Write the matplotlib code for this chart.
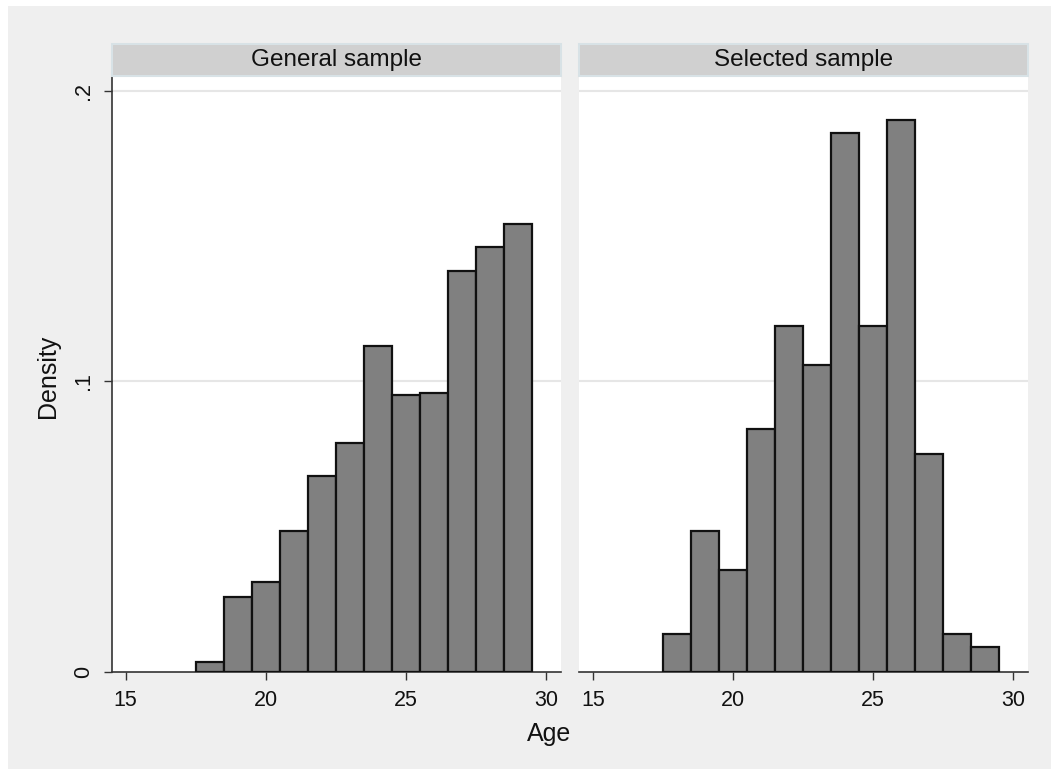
import numpy as np
import matplotlib
matplotlib.use('Agg')
import matplotlib.pyplot as plt
from matplotlib.patches import Rectangle

plt.rcParams['font.family'] = ['Liberation Sans', 'DejaVu Sans']

# Histogram data (bins of width 1 starting at 17.5)
bin_left = [17.5, 18.5, 19.5, 20.5, 21.5, 22.5, 23.5, 24.5, 25.5, 26.5, 27.5, 28.5]
general_density = [0.0033, 0.0258, 0.0310, 0.0485, 0.0674, 0.0788,
                   0.1120, 0.0952, 0.0958, 0.1378, 0.1461, 0.1543]
selected_density = [0.0129, 0.0483, 0.0350, 0.0836, 0.1190, 0.1056,
                    0.1854, 0.1190, 0.1898, 0.0748, 0.0129, 0.0085]
panel_titles = ['General sample', 'Selected sample']
x_ticks = [15, 20, 25, 30]
y_ticks = [0, 0.1, 0.2]
y_ticklabels = ['0', '.1', '.2']

W, H = 1051, 769
fig = plt.figure(figsize=(W / 100, H / 100), dpi=100, facecolor='white')

# light gray graph region
fig.patches.append(Rectangle((8 / W, 0), 1, 1 - 6 / H, transform=fig.transFigure,
                             facecolor='#EFEFEF', edgecolor='none', zorder=-10))

axis_col = '#333333'
panels = [(111.7, 560.7), (579.0, 1028.0)]
top_px, bot_px = 75.7, 671.7
head_top = 43.5

for i, (x0, x1) in enumerate(panels):
    ax = fig.add_axes([x0 / W, (H - bot_px) / H, (x1 - x0) / W, (bot_px - top_px) / H])
    ax.set_facecolor('white')
    dens = general_density if i == 0 else selected_density
    ax.bar(bin_left, dens, width=1.0, align='edge', color='#808080',
           edgecolor='#111111', linewidth=1.6, zorder=3)
    ax.set_xlim(14.5, 30.52)
    ax.set_ylim(0, 0.2052)
    for yv in [0.1, 0.2]:
        ax.axhline(yv, color='#E6E6E6', linewidth=1.5, zorder=1)
    ax.set_xticks(x_ticks)
    ax.set_xticklabels([str(t) for t in x_ticks])
    ax.tick_params(axis='x', direction='out', length=6, width=1, color=axis_col,
                   labelsize=15.5, pad=7, labelcolor='#111111')
    for s in ['top', 'right']:
        ax.spines[s].set_visible(False)
    ax.spines['bottom'].set_color(axis_col)
    ax.spines['bottom'].set_linewidth(1.2)
    if i == 0:
        ax.set_yticks(y_ticks)
        ax.set_yticklabels(y_ticklabels, rotation=90, va='center')
        ax.tick_params(axis='y', direction='out', length=6, width=1, color=axis_col,
                       labelsize=15.5, pad=7, labelcolor='#111111')
        ax.spines['left'].set_color(axis_col)
        ax.spines['left'].set_linewidth(1.2)
    else:
        ax.spines['left'].set_visible(False)
        ax.set_yticks([])

    # strip header
    fig.patches.append(Rectangle((x0 / W, (H - top_px) / H), (x1 - x0) / W,
                                 (top_px - head_top) / H, transform=fig.transFigure,
                                 facecolor='#D0D0D0', edgecolor='#D8E2E6',
                                 linewidth=1.5, zorder=1))
    fig.text((x0 + x1) / 2 / W, (H - (head_top + top_px) / 2) / H, panel_titles[i],
             ha='center', va='center', fontsize=17.5, color='#111111')

fig.text(48 / W, (H - 376) / H, 'Density', rotation=90, ha='center', va='center',
         fontsize=18, color='#111111')
fig.text(549 / W, (H - 734) / H, 'Age', ha='center', va='center',
         fontsize=18, color='#111111')

fig.savefig('out.png', dpi=100, facecolor=fig.get_facecolor())
